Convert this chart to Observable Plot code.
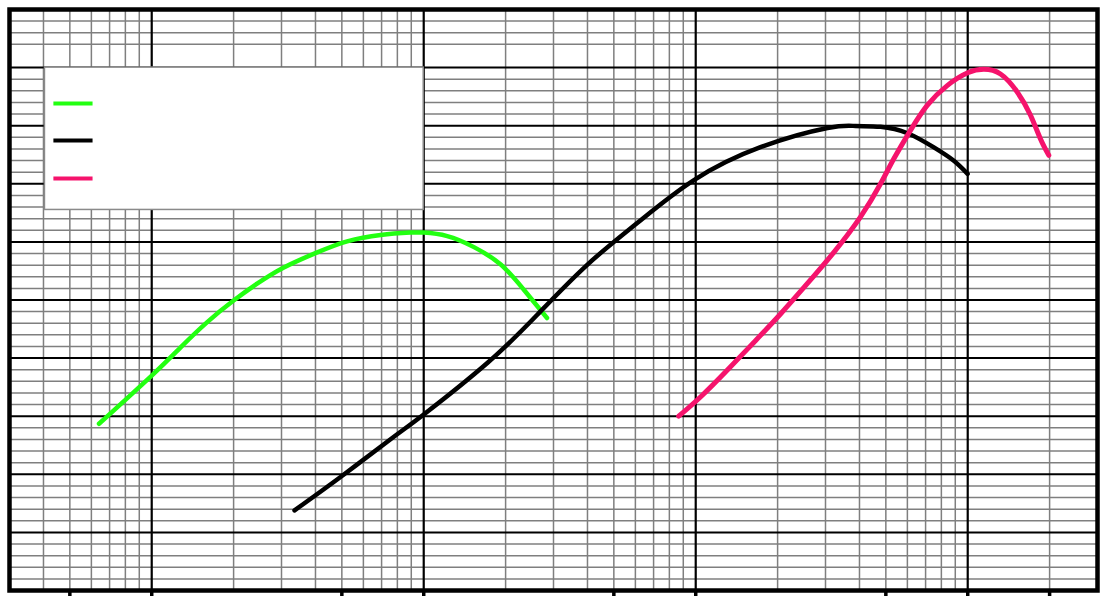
<!DOCTYPE html>
<html>
<head>
<meta charset="utf-8">
<script src="https://cdn.jsdelivr.net/npm/d3@7"></script>
<script src="https://cdn.jsdelivr.net/npm/@observablehq/plot@0.6"></script>
<style>
  html, body { margin: 0; padding: 0; background: #fff; }
  #chart svg { display: block; }
</style>
</head>
<body>
<div id="chart"></div>
<script>
// ---- data ----
const greenFreq = [6.4, 10, 12.8, 16, 20, 24.4, 30.6, 40.6, 52.3, 69.4, 89.4, 100, 122, 153, 192, 233, 284];
const greenLevel = [28.7, 37.0, 41.9, 46.2, 49.9, 52.8, 55.6, 58.2, 60.1, 61.2, 61.6, 61.6, 61.0, 59.1, 56.1, 51.8, 46.9];

const blackFreq = [33.5, 50.3, 76.8, 100, 171.7, 262, 400, 611, 982, 1730, 3052, 3869, 4780, 6006, 7484, 8866, 9990];
const blackLevel = [13.8, 19.8, 26.3, 30.3, 39.2, 47.5, 56.1, 63.3, 70.6, 76.3, 79.6, 79.95, 79.8, 78.7, 76.3, 74.0, 71.7];

const pinkFreq = [866, 1041, 1305, 1635, 2050, 2570, 3219, 4035, 4780, 5349, 6159, 7095, 8405, 10000, 11457, 13197, 15204, 17016, 18517, 19866];
const pinkLevel = [30.0, 33.3, 37.9, 42.7, 47.6, 52.8, 58.2, 64.3, 70.0, 74.3, 79.2, 83.5, 86.9, 89.1, 89.7, 88.9, 85.8, 81.8, 77.7, 74.9];

// grid
const majorFreq = [10, 100, 1000, 10000];
const minorFreq = [4, 5, 6, 7, 8, 9,
  20, 30, 40, 50, 60, 70, 80, 90,
  200, 300, 400, 500, 600, 700, 800, 900,
  2000, 3000, 4000, 5000, 6000, 7000, 8000, 9000,
  20000];
const majorLevel = [10, 20, 30, 40, 50, 60, 70, 80, 90];
const minorLevel = [2, 4, 6, 8, 12, 14, 16, 18, 22, 24, 26, 28, 32, 34, 36, 38,
  42, 44, 46, 48, 52, 54, 56, 58, 62, 64, 66, 68, 72, 74, 76, 78,
  82, 84, 86, 88, 94, 96, 98];
const tickFreq = [5, 10, 50, 100, 500, 1000, 5000, 10000, 20000];

// legend box (in data units) and legend swatches
const legendBox = [{x1: 4.05, x2: 100, y1: 65.5, y2: 90}];
const legendColors = ["#22ff11", "#000000", "#f5136c"];
const legendLevel = [83.8, 77.45, 70.9];
const legendX1 = 4.35, legendX2 = 6.06;

// ---- build ----
const toRows = (xs, ys) => xs.map((x, i) => ({x, y: ys[i]}));
const green = toRows(greenFreq, greenLevel);
const black = toRows(blackFreq, blackLevel);
const pink = toRows(pinkFreq, pinkLevel);
const legendRows = legendColors.map((c, i) => ({c, y: legendLevel[i], x1: legendX1, x2: legendX2}));

const chart = Plot.plot({
  width: 1105,
  height: 602,
  marginLeft: 9,
  marginRight: 8,
  marginTop: 9,
  marginBottom: 12,
  x: {type: "log", domain: [3, 30000], axis: null},
  y: {domain: [0, 100], axis: null},
  marks: [
    Plot.ruleX(minorFreq, {stroke: "#7f7f7f", strokeWidth: 1.5}),
    Plot.ruleY(minorLevel, {stroke: "#7f7f7f", strokeWidth: 1.5}),
    Plot.ruleX(majorFreq, {stroke: "#000", strokeWidth: 2.2}),
    Plot.ruleY(majorLevel, {stroke: "#000", strokeWidth: 2}),
    Plot.rect(legendBox, {x1: "x1", x2: "x2", y1: "y1", y2: "y2", fill: "#fff", stroke: "#8a8a8a", strokeWidth: 1.5}),
    Plot.link(legendRows, {x1: "x1", x2: "x2", y1: "y", y2: "y", stroke: d => d.c, strokeWidth: 4}),
    Plot.line(green, {x: "x", y: "y", stroke: "#22ff11", strokeWidth: 4.5, curve: "natural"}),
    Plot.line(black, {x: "x", y: "y", stroke: "#000", strokeWidth: 4.5, curve: "natural"}),
    Plot.line(pink, {x: "x", y: "y", stroke: "#f5136c", strokeWidth: 5, curve: "natural"}),
    Plot.frame({stroke: "#000", strokeWidth: 4.5}),
    Plot.axisX({ticks: tickFreq, tickSize: 6, strokeWidth: 3.5, fill: "none", label: null})
  ]
});
document.getElementById("chart").append(chart);
</script>
</body>
</html>
